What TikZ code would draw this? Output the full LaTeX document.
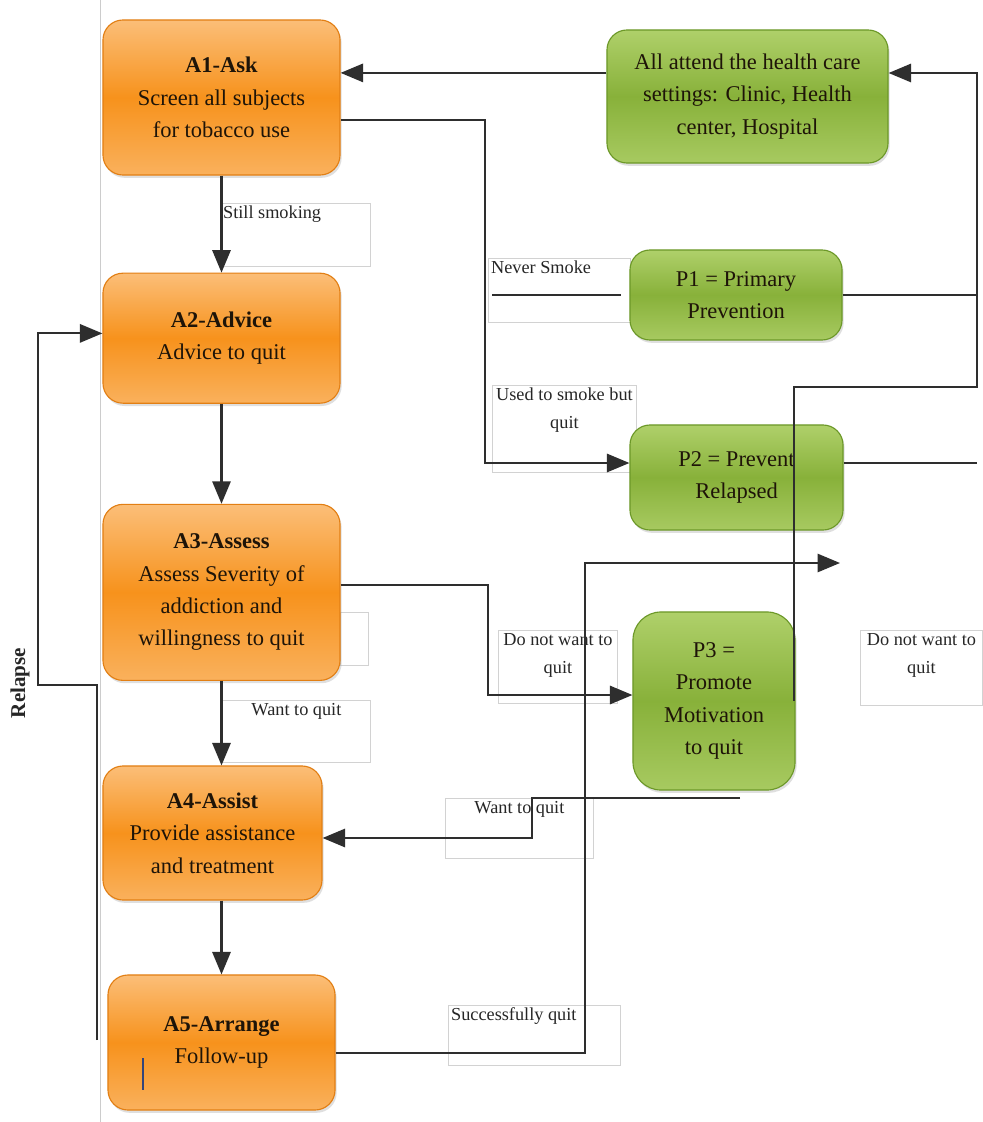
\documentclass[tikz,border=0pt]{standalone}
\usepackage{fontspec}
\setmainfont{Liberation Serif}
\usetikzlibrary{arrows.meta,positioning,calc,shadows}
\definecolor{askorange}{HTML}{F7921C}
\definecolor{asklight}{HTML}{FBBE78}
\definecolor{askedge}{HTML}{E27F14}
\definecolor{pgreen}{HTML}{88B13A}
\definecolor{plight}{HTML}{AFD06A}
\definecolor{pedge}{HTML}{6C9828}
\definecolor{boxtext}{HTML}{1E1408}
\definecolor{cursorblue}{HTML}{34457A}
\tikzset{
  askbox/.style={rectangle, rounded corners=0.5cm, draw=askedge, line width=0.8pt, align=center,
                 top color=asklight, bottom color=asklight!70!askorange, middle color=askorange,
                 inner sep=2pt, text=boxtext, font=\fontsize{16}{23}\selectfont,
                 drop shadow={opacity=0.25, shadow xshift=0.4mm, shadow yshift=-0.7mm}},
  prevbox/.style={askbox, draw=pedge, top color=plight, bottom color=plight!80!pgreen,
                  middle color=pgreen},
  lblbox/.style={rectangle, draw=gray!35, line width=0.6pt, inner sep=0pt, anchor=north west},
  lbltxt/.style={font=\fontsize{13}{20}\selectfont, align=center, inner sep=2pt, text=black!85},
  flowline/.style={line width=1.5pt, draw=black!82},
  flowarr/.style={flowline, -{Triangle[length=16pt,width=13pt]}},
  pageline/.style={draw=gray!40, line width=0.6pt},
}
\begin{document}
\begin{tikzpicture}[x=0.025cm, y=-0.025cm]
  \fill[white] (0,0) rectangle (982,1122);
  \useasboundingbox (0,0) rectangle (982,1122);
  \draw[pageline] (100,0) -- (100,1122);

  % label boxes
  \node[lblbox, minimum width=3.75cm, minimum height=1.575cm,
        label={[lbltxt, anchor=north west]north west:Still smoking}] (smk) at (220,203) {};
  \node[lblbox, minimum width=3.55cm, minimum height=1.6cm,
        label={[lbltxt, anchor=north west]north west:Never Smoke}] (nev) at (488,258) {};
  \node[lblbox, minimum width=3.6cm, minimum height=2.175cm,
        label={[lbltxt, anchor=north]north:Used to smoke but\\quit}] (used) at (492,385) {};
  \node[lblbox, minimum width=0.7cm, minimum height=1.325cm] (empt) at (340,612) {};
  \node[lblbox, minimum width=3.7cm, minimum height=1.55cm,
        label={[lbltxt, anchor=north]north:Want to quit}] (wanta) at (222,700) {};
  \node[lblbox, minimum width=2.975cm, minimum height=1.825cm,
        label={[lbltxt, anchor=north]north:Do not want to\\quit}] (dnwa) at (498,630) {};
  \node[lblbox, minimum width=3.05cm, minimum height=1.875cm,
        label={[lbltxt, anchor=north]north:Do not want to\\quit}] (dnwb) at (860,630) {};
  \node[lblbox, minimum width=3.7cm, minimum height=1.5cm,
        label={[lbltxt, anchor=north]north:Want to quit}] (wantp) at (445,798) {};
  \node[lblbox, minimum width=4.3cm, minimum height=1.5cm,
        label={[lbltxt, anchor=north west]north west:Successfully quit}] (succ) at (448,1005) {};

  % the 5 A's
  \node[askbox, minimum width=5.925cm, minimum height=3.875cm] (a1) at (221.5,97.5)
       {\textbf{A1-Ask}\\Screen all subjects\\for tobacco use};
  \node[askbox, minimum width=5.925cm, minimum height=3.25cm, below=2.425cm of a1] (a2)
       {\textbf{A2-Advice}\\Advice to quit};
  \node[askbox, minimum width=5.925cm, minimum height=4.4cm, below=2.5cm of a2] (a3)
       {\textbf{A3-Assess}\\Assess Severity of\\addiction and\\willingness to quit};
  \node[askbox, minimum width=5.475cm, minimum height=3.35cm] (a4) at (212.5,833)
       {\textbf{A4-Assist}\\Provide assistance\\and treatment};
  \node[askbox, minimum width=5.675cm, minimum height=3.375cm] (a5) at (221.5,1042.5)
       {\textbf{A5-Arrange}\\Follow-up};
  \draw[cursorblue, line width=1.5pt] (143,1058) -- (143,1090);

  % prevention side
  \node[prevbox, minimum width=7.025cm, minimum height=3.325cm] (care) at (747.5,96.5)
       {All attend the health care\\settings: Clinic, Health\\center, Hospital};
  \node[prevbox, minimum width=5.3cm, minimum height=2.25cm] (p1) at (736,295)
       {P1 = Primary\\Prevention};
  \node[prevbox, minimum width=5.325cm, minimum height=2.625cm] (p2) at (736.5,477.5)
       {P2 = Prevent\\Relapsed};
  \node[prevbox, minimum width=4.05cm, minimum height=4.45cm, rounded corners=0.7cm] (p3) at (714,701)
       {P3 =\\Promote\\Motivation\\to quit};

  \node[lbltxt, rotate=90, inner sep=0pt, font=\fontsize{15}{18}\selectfont\bfseries] (rlp) at (20,683) {Relapse};

  % bends
  \coordinate (j1) at (485,463);
  \coordinate (nvs) at (492,295);
  \coordinate (rb) at (977,73);
  \coordinate (rk) at (977,387);
  \coordinate (j2) at (488,695);
  \coordinate (p3o) at (740,798);
  \coordinate (j3) at (532,838);
  \coordinate (j4) at (585,563);
  \coordinate (qend) at (840,563);
  \coordinate (rl0) at (97,1040);
  \coordinate (rl1) at (38,685);

  \draw[flowarr] (a1) -- (a2);
  \draw[flowarr] (a2) -- (a3);
  \draw[flowarr] (a3.south) -- (a3.south |- a4.north);
  \draw[flowarr] (a4.south -| a5.north) -- (a5.north);
  \draw[flowarr] ([yshift=0.59cm]care.west) -- ([yshift=0.59cm]care.west -| a1.east);
  \draw[flowarr] ([yshift=-0.56cm]a1.east) -| (j1) -- (j1 -| p2.west);
  \draw[flowline] (nvs) -- ([xshift=-0.2cm]p1.west);
  \draw[flowline] (p1.east) -- (p1.east -| rb);
  \draw[flowline] (j1 -| p2.east) -- (j1 -| rb);
  \draw[flowarr] ([xshift=-0.05cm]p3.east) |- (rk) -- (rb) -- (rb -| care.east);
  \draw[flowarr] ([yshift=0.175cm]a3.east) -| (j2) -- (j2 -| p3.west);
  \draw[flowarr] (p3o) -| (j3) -- (j3 -| a4.east);
  \draw[flowarr] ([yshift=-0.26cm]a5.east) -| (j4) -- (qend);
  \draw[flowarr] (rl0) |- (rl1) |- ([yshift=0.12cm]a2.west);
\end{tikzpicture}
\end{document}
